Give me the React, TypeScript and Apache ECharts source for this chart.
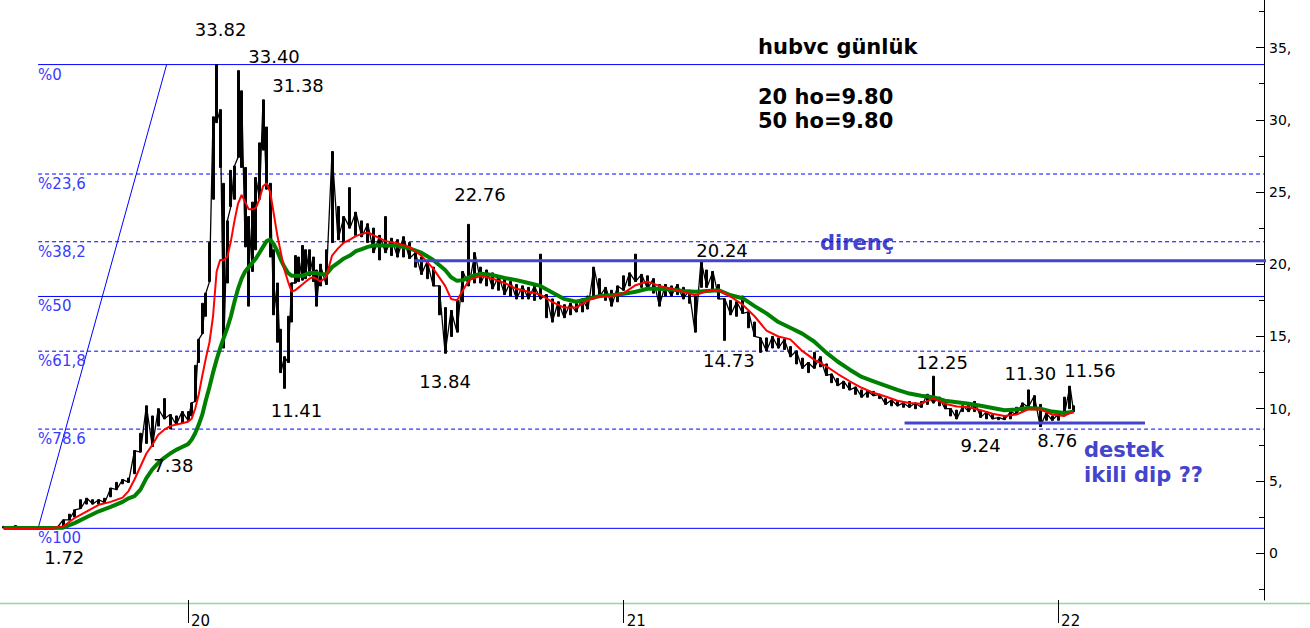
import { useEffect, useRef } from "react";
import * as echarts from "echarts";

const FONT = '"DejaVu Sans", Verdana, sans-serif';

// ---- price samples (date, high, low) ----
const preDates = [
  "2019-07-30", "2019-08-04", "2019-08-09", "2019-08-14", "2019-08-19", "2019-08-24", "2019-08-29", "2019-09-03", "2019-09-08", "2019-09-13",
  "2019-09-18", "2019-09-23", "2019-09-28", "2019-10-03", "2019-10-08", "2019-10-13", "2019-10-18", "2019-10-23", "2019-10-28", "2019-11-02",
  "2019-11-07", "2019-11-12", "2019-11-17", "2019-11-22", "2019-11-27", "2019-12-02", "2019-12-07", "2019-12-12", "2019-12-17", "2019-12-22",
  "2019-12-27",
];
const preHighs = [
  1.85, 1.8, 1.9, 1.85, 1.8, 1.78, 1.76, 1.78, 1.8, 1.85,
  2.3, 2.7, 3.0, 3.7, 3.8, 3.7, 3.7, 3.8, 4.5, 4.9,
  5.1, 5.2, 7.1, 8.3, 10.2, 9.5, 10.0, 10.7, 9.6, 9.5,
  9.8,
];
const preLows = [
  1.74, 1.74, 1.75, 1.74, 1.73, 1.74, 1.72, 1.74, 1.75, 1.76,
  1.85, 2.3, 2.5, 3.1, 3.4, 3.4, 3.4, 3.5, 3.9, 4.4,
  4.8, 4.9, 5.5, 7.0, 7.6, 7.38, 8.8, 9.3, 8.6, 8.9,
  9.0,
];

const fineDates = [
  "2020-01-01", "2020-01-04", "2020-01-07", "2020-01-10", "2020-01-13", "2020-01-16", "2020-01-19", "2020-01-22", "2020-01-25", "2020-01-28",
  "2020-01-31", "2020-02-03", "2020-02-06", "2020-02-09", "2020-02-12", "2020-02-15", "2020-02-18", "2020-02-21", "2020-02-24", "2020-02-27",
  "2020-03-01", "2020-03-04", "2020-03-07", "2020-03-10", "2020-03-13", "2020-03-16", "2020-03-19", "2020-03-22", "2020-03-25", "2020-03-28",
  "2020-03-31", "2020-04-03", "2020-04-06", "2020-04-09", "2020-04-12", "2020-04-15", "2020-04-18", "2020-04-21",
];
const fineHighs = [
  9.8, 10.4, 13.0, 14.8, 17.3, 18.0, 21.5, 30.2, 33.82, 30.7,
  25.6, 23.0, 26.5, 26.8, 33.4, 32.0, 26.7, 23.3, 24.3, 26.0,
  28.4, 31.38, 29.5, 25.6, 21.0, 18.7, 15.5, 13.6, 16.4, 18.7,
  20.6, 20.5, 21.3, 21.0, 21.0, 20.5, 19.6, 20.0,
];
const fineLows = [
  9.2, 9.5, 10.5, 13.2, 15.2, 16.4, 18.8, 24.5, 29.8, 26.7,
  14.2, 18.7, 24.0, 24.5, 27.4, 26.7, 21.2, 17.1, 19.5, 21.0,
  24.5, 27.9, 25.2, 20.5, 16.5, 14.6, 12.5, 11.41, 13.2, 16.0,
  18.7, 18.8, 18.9, 19.0, 19.2, 18.8, 17.1, 18.5,
];

const postDates = [
  "2020-04-26", "2020-05-01", "2020-05-06", "2020-05-11", "2020-05-16", "2020-05-21", "2020-05-26", "2020-05-31", "2020-06-05", "2020-06-10",
  "2020-06-15", "2020-06-20", "2020-06-25", "2020-06-30", "2020-07-05", "2020-07-10", "2020-07-15", "2020-07-20", "2020-07-25", "2020-07-30",
  "2020-08-04", "2020-08-09", "2020-08-14", "2020-08-19", "2020-08-24", "2020-08-29", "2020-09-03", "2020-09-08", "2020-09-13", "2020-09-18",
  "2020-09-23", "2020-09-28", "2020-10-03", "2020-10-08", "2020-10-13", "2020-10-18", "2020-10-23", "2020-10-28", "2020-11-02", "2020-11-07",
  "2020-11-12", "2020-11-17", "2020-11-22", "2020-11-27", "2020-12-02", "2020-12-07", "2020-12-12", "2020-12-17", "2020-12-22", "2020-12-27",
  "2021-01-01", "2021-01-06", "2021-01-11", "2021-01-16", "2021-01-21", "2021-01-26", "2021-01-31", "2021-02-05", "2021-02-10", "2021-02-15",
  "2021-02-20", "2021-02-25", "2021-03-02", "2021-03-07", "2021-03-12", "2021-03-17", "2021-03-22", "2021-03-27", "2021-04-01", "2021-04-06",
  "2021-04-11", "2021-04-16", "2021-04-21", "2021-04-26", "2021-05-01", "2021-05-06", "2021-05-11", "2021-05-16", "2021-05-21", "2021-05-26",
  "2021-05-31", "2021-06-05", "2021-06-10", "2021-06-15", "2021-06-20", "2021-06-25", "2021-06-30", "2021-07-05", "2021-07-10", "2021-07-15",
  "2021-07-20", "2021-07-25", "2021-07-30", "2021-08-04", "2021-08-09", "2021-08-14", "2021-08-19", "2021-08-24", "2021-08-29", "2021-09-03",
  "2021-09-08", "2021-09-13", "2021-09-18", "2021-09-23", "2021-09-28", "2021-10-03", "2021-10-08", "2021-10-13", "2021-10-18", "2021-10-23",
  "2021-10-28", "2021-11-02", "2021-11-07", "2021-11-12", "2021-11-17", "2021-11-22", "2021-11-27", "2021-12-02", "2021-12-07", "2021-12-12",
  "2021-12-17", "2021-12-22", "2021-12-27", "2022-01-01", "2022-01-06", "2022-01-11", "2022-01-14",
];
const postHighs = [
  21.0, 27.8, 24.0, 23.3, 25.3, 23.6, 23.0, 22.8, 22.5, 22.0,
  23.3, 21.8, 21.7, 21.9, 21.5, 20.8, 20.5, 20.2, 19.8, 18.5,
  17.0, 16.8, 17.5, 19.5, 22.76, 20.8, 19.8, 19.6, 19.4, 19.2,
  19.0, 18.8, 18.6, 18.5, 18.4, 18.5, 20.7, 17.9, 17.6, 17.4,
  17.2, 17.3, 17.5, 17.6, 17.8, 19.8, 19.0, 18.4, 18.2, 18.5,
  19.2, 19.4, 20.7, 19.3, 19.2, 19.0, 18.6, 18.6, 18.5, 18.6,
  18.4, 18.2, 17.8, 20.24, 19.6, 19.5, 18.6, 17.6, 17.5, 17.4,
  17.8, 16.7, 16.0, 14.9, 14.9, 15.0, 14.9, 14.8, 14.3, 14.0,
  13.5, 13.2, 13.9, 13.6, 13.1, 12.4, 12.1, 11.9, 11.8, 11.5,
  11.3, 11.2, 11.2, 11.0, 10.7, 10.6, 10.5, 10.4, 10.5, 10.4,
  10.5, 11.0, 12.25, 10.8, 10.5, 10.0, 9.9, 10.2, 10.3, 10.5,
  9.9, 9.8, 9.6, 9.4, 9.5, 9.8, 10.1, 10.4, 11.3, 10.9,
  10.3, 9.7, 9.5, 9.6, 10.8, 11.56, 10.2,
];
const postLows = [
  18.6, 21.5, 21.7, 21.5, 22.5, 22.0, 21.9, 21.5, 20.8, 20.3,
  20.8, 20.6, 20.5, 20.5, 20.4, 19.8, 19.3, 19.0, 18.5, 16.5,
  13.84, 15.0, 15.3, 17.4, 18.5, 18.7, 18.7, 18.5, 18.3, 18.2,
  17.9, 17.8, 17.6, 17.6, 17.6, 17.5, 17.6, 16.3, 16.0, 16.4,
  16.3, 16.5, 16.7, 16.7, 16.9, 17.6, 17.8, 17.5, 17.1, 17.4,
  18.2, 18.5, 18.8, 18.4, 18.3, 18.0, 17.1, 17.8, 17.8, 17.9,
  17.6, 17.3, 15.3, 18.4, 18.4, 18.2, 17.6, 14.73, 16.5, 16.4,
  16.6, 15.6, 15.0, 13.9, 14.0, 14.2, 14.2, 14.1, 13.6, 13.1,
  12.8, 12.5, 12.8, 12.9, 12.3, 11.8, 11.6, 11.4, 11.3, 11.0,
  10.8, 10.8, 10.9, 10.7, 10.3, 10.2, 10.2, 10.1, 10.1, 10.0,
  10.1, 10.3, 10.4, 10.2, 10.0, 9.5, 9.3, 9.8, 9.8, 9.8,
  9.4, 9.3, 9.3, 9.24, 9.25, 9.3, 9.6, 9.8, 10.1, 10.0,
  8.76, 9.2, 9.2, 9.2, 9.5, 10.0, 9.8,
];

// ---- moving averages (20-day red, 50-day green) ----
const maPreDates = [
  "2019-07-30", "2019-08-19", "2019-09-08", "2019-09-18", "2019-09-28", "2019-10-08", "2019-10-18", "2019-10-28", "2019-11-07", "2019-11-12",
  "2019-11-17", "2019-11-22", "2019-11-27", "2019-12-02", "2019-12-07", "2019-12-12", "2019-12-17", "2019-12-22", "2019-12-27",
];
const ma20Pre = [1.75, 1.75, 1.75, 1.85, 2.45, 2.9, 3.35, 3.55, 3.85, 4.3, 5.1, 6.0, 6.9, 7.5, 8.2, 8.55, 8.8, 8.9, 9.0];
const ma50Pre = [1.74, 1.74, 1.74, 1.76, 2.1, 2.5, 2.9, 3.2, 3.55, 3.8, 3.95, 4.4, 5.2, 5.8, 6.25, 6.6, 6.9, 7.15, 7.35];

const ma20Fine = [
  9.1, 9.3, 10.0, 11.0, 12.3, 13.5, 14.6, 16.4, 19.5, 20.3,
  20.3, 20.5, 21.6, 23.0, 24.2, 24.8, 24.3, 23.8, 23.8, 23.9,
  24.5, 25.4, 25.6, 25.0, 23.5, 22.0, 20.8, 19.6, 18.8, 18.1,
  18.2, 18.4, 18.6, 18.8, 19.0, 19.1, 19.0, 18.8,
];
const ma50Fine = [
  7.55, 7.85, 8.3, 8.9, 9.6, 10.6, 11.5, 12.5, 13.4, 14.2,
  14.9, 15.6, 16.4, 17.4, 18.3, 19.0, 19.5, 19.8, 20.1, 20.4,
  20.8, 21.2, 21.6, 21.7, 21.4, 20.9, 20.3, 19.8, 19.4, 19.2,
  19.2, 19.2, 19.2, 19.3, 19.4, 19.4, 19.4, 19.3,
];

const maPostDates = [
  "2020-04-26", "2020-05-01", "2020-05-06", "2020-05-11", "2020-05-16", "2020-05-21", "2020-05-26", "2020-05-31", "2020-06-05",
  "2020-06-15", "2020-06-25", "2020-07-05", "2020-07-15", "2020-07-25", "2020-08-04",
  "2020-08-09", "2020-08-14", "2020-08-19", "2020-08-24",
  "2020-09-03", "2020-09-13", "2020-09-23", "2020-10-03", "2020-10-13", "2020-10-23", "2020-11-02", "2020-11-12", "2020-11-22", "2020-12-02",
  "2020-12-12", "2020-12-22", "2021-01-01", "2021-01-11", "2021-01-21", "2021-01-31", "2021-02-10", "2021-02-20", "2021-03-02", "2021-03-12",
  "2021-03-22", "2021-04-01", "2021-04-11", "2021-04-21", "2021-05-01", "2021-05-11", "2021-05-21", "2021-05-31", "2021-06-10", "2021-06-20",
  "2021-06-30", "2021-07-10", "2021-07-20", "2021-07-30", "2021-08-09", "2021-08-19", "2021-08-29", "2021-09-08", "2021-09-18", "2021-09-28",
  "2021-10-08", "2021-10-18", "2021-10-28", "2021-11-07", "2021-11-17", "2021-11-27", "2021-12-07", "2021-12-17", "2021-12-27", "2022-01-06",
  "2022-01-14",
];
const ma20Post = [
  19.1, 20.6, 21.1, 21.5, 21.7, 21.95, 22.1, 22.2, 22.0,
  21.6, 21.45, 21.2, 20.6, 19.7, 18.5,
  17.6, 17.5, 18.2, 18.9,
  19.2, 19.0, 18.7, 18.3, 18.1, 17.9, 17.4, 17.0, 17.0, 17.5,
  17.8, 17.8, 18.0, 18.55, 18.8, 18.5, 18.3, 18.1, 17.85, 18.15,
  18.2, 17.75, 17.2, 16.4, 15.4, 15.0, 14.8, 14.0, 13.4, 12.95,
  12.4, 11.9, 11.45, 11.1, 10.85, 10.55, 10.4, 10.35, 10.7, 10.35,
  10.15, 10.1, 9.9, 9.65, 9.5, 9.6, 9.95, 9.95, 9.6, 9.5,
  9.8,
];
const ma50Post = [
  19.3, 19.8, 20.1, 20.4, 20.6, 20.9, 21.05, 21.2, 21.3,
  21.3, 21.3, 21.1, 20.8, 20.3, 19.6,
  19.1, 18.85, 18.9, 19.1,
  19.35, 19.25, 19.05, 18.9, 18.7, 18.5, 18.05, 17.6, 17.4, 17.6,
  17.8, 17.85, 17.95, 18.1, 18.3, 18.3, 18.25, 18.15, 18.1, 18.15,
  18.2, 17.85, 17.65, 17.1, 16.6, 16.0, 15.6, 15.2, 14.65, 13.9,
  13.25, 12.7, 12.2, 11.9, 11.6, 11.3, 11.05, 10.9, 10.8, 10.55,
  10.45, 10.35, 10.2, 10.05, 9.9, 9.95, 10.05, 10.0, 9.8, 9.7,
  9.8,
];

// ---- Fibonacci retracement ----
const fibHigh = 33.82;
const fibLow = 1.72;
const fibRatios = [0, 0.236, 0.382, 0.5, 0.618, 0.786, 1];
const fibLabels = ["%0", "%23,6", "%38,2", "%50", "%61,8", "%78.6", "%100"];
const fibSolid = [true, false, false, true, false, false, true];
const fibStartDate = "2019-08-28";
const fibDiagTopDate = "2019-12-14";

// ---- support / resistance ----
const resistanceLevel = 20.24;
const resistanceDates = ["2020-07-09", "2022-08-25"];
const supportLevel = 9.02;
const supportDates = ["2021-08-25", "2022-03-15"];

// ---- annotated extremes ----
const annotationDates = [
  "2020-01-25", "2020-02-12", "2020-03-04", "2020-08-24", "2021-03-07", "2021-03-27", "2020-08-04", "2020-03-22",
  "2019-12-02", "2019-08-29", "2021-09-18", "2021-12-07", "2022-01-11", "2021-11-12", "2021-12-17",
];
const annotationValues = [33.82, 33.4, 31.38, 22.76, 20.24, 14.73, 13.84, 11.41, 7.38, 1.72, 12.25, 11.3, 11.56, 9.24, 8.76];
const annotationOffsets = [
  [4, -35], [36, -14], [35, -14], [11, -30], [21, -10], [4, 20], [0, 28], [12, 22],
  [21, 19], [25, 29], [9, -14], [2, -16], [20, -16], [-18, 26], [17, 14],
];

// ---- axes ----
const xMin = "2019-07-27";
const xMax = "2022-06-23";
const yearStarts = ["2020-01-01", "2021-01-01", "2022-01-01"];
const yMin = -3.24;
const yMax = 38.29;
const yTicks = [0, 5, 10, 15, 20, 25, 30, 35];
const yMinorTicks = [-2.5, 2.5, 7.5, 12.5, 17.5, 22.5, 27.5, 32.5, 37.5];

const toTs = (s: string) => {
  const [y, m, d] = s.split("-").map(Number);
  return new Date(y, m - 1, d).getTime();
};

export default function App() {
  const ref = useRef<HTMLDivElement>(null);

  useEffect(() => {
    document.body.style.margin = "0";
    if (!ref.current) return;
    const chart = echarts.init(ref.current, null, { renderer: "svg" });

    const priceDates = [...preDates, ...fineDates, ...postDates];
    const highs = [...preHighs, ...fineHighs, ...postHighs];
    const lows = [...preLows, ...fineLows, ...postLows];
    const maDates = [...maPreDates, ...fineDates, ...maPostDates];
    const ma20 = [...ma20Pre, ...ma20Fine, ...ma20Post];
    const ma50 = [...ma50Pre, ...ma50Fine, ...ma50Post];

    const candles = priceDates.map((d, i) => [toTs(d), lows[i], highs[i], lows[i], highs[i]]);
    const zigzag = priceDates.map((d, i) => [toTs(d), i % 2 === 0 ? highs[i] : lows[i]]);

    const fibBlue = "#0000ff";
    const fibRange = fibHigh - fibLow;
    const fibLevels = fibRatios.map((r) => fibHigh - r * fibRange);

    const fibSeries = fibLevels.map((level, i) => ({
      name: fibLabels[i],
      type: "line",
      data: [
        [toTs(fibStartDate), level],
        [toTs(xMax), level],
      ],
      symbol: "none",
      silent: true,
      z: 1,
      lineStyle: { color: fibBlue, width: 1, type: fibSolid[i] ? "solid" : [4, 3] },
      markPoint: {
        symbol: "circle",
        symbolSize: 1,
        silent: true,
        itemStyle: { color: "rgba(0,0,0,0)" },
        label: {
          show: true,
          position: "inside",
          align: "left",
          verticalAlign: "middle",
          offset: [0, 10],
          color: "#3a3aff",
          fontSize: 15,
          lineHeight: 15,
          fontFamily: FONT,
          formatter: fibLabels[i],
        },
        data: [{ coord: [toTs(fibStartDate), level] }],
      },
    }));

    const blue = "#4444cc";
    const yearTs = yearStarts.map(toTs);

    const option: any = {
      animation: false,
      backgroundColor: "#ffffff",
      textStyle: { fontFamily: FONT },
      grid: { left: 0, right: 46, top: 0, bottom: 25, containLabel: false },
      xAxis: {
        type: "value",
        min: toTs(xMin),
        max: toTs(xMax),
        axisLine: { show: false, onZero: false },
        axisTick: {
          show: true,
          customValues: yearTs,
          length: 23,
          lineStyle: { color: "#000", width: 1 },
        },
        axisLabel: {
          customValues: yearTs,
          formatter: (v: number) => String(new Date(v).getFullYear() % 100),
          align: "left",
          margin: 13,
          padding: [0, 0, 0, 3],
          color: "#000",
          fontSize: 15,
          fontFamily: FONT,
        },
        splitLine: { show: false },
      },
      yAxis: [
        {
          type: "value",
          position: "right",
          min: yMin,
          max: yMax,
          axisLine: { show: true, onZero: false, lineStyle: { color: "#000", width: 1 } },
          axisTick: { show: true, inside: true, length: 8, customValues: yTicks, lineStyle: { color: "#000" } },
          axisLabel: {
            customValues: yTicks,
            formatter: (v: number) => (v === 0 ? "0" : `${v},`),
            color: "#000",
            fontSize: 14,
            fontFamily: FONT,
            margin: 5,
            verticalAlign: "middle",
            padding: [4, 0, 0, 0],
          },
          splitLine: { show: false },
        },
        {
          type: "value",
          position: "right",
          min: yMin,
          max: yMax,
          axisLine: { show: false, onZero: false },
          axisTick: { show: true, inside: true, length: 5, customValues: yMinorTicks, lineStyle: { color: "#000" } },
          axisLabel: { show: false },
          splitLine: { show: false },
        },
      ],
      series: [
        ...fibSeries,
        {
          name: "fib-diagonal",
          type: "line",
          data: [
            [toTs(fibStartDate), fibLow],
            [toTs(fibDiagTopDate), fibHigh],
          ],
          symbol: "none",
          silent: true,
          z: 1,
          lineStyle: { color: fibBlue, width: 1 },
        },
        {
          name: "hubvc",
          type: "candlestick",
          data: candles,
          encode: { x: 0, y: [1, 2, 3, 4] },
          barWidth: 2.5,
          silent: true,
          z: 2,
          itemStyle: { color: "#000", color0: "#000", borderColor: "#000", borderColor0: "#000", borderWidth: 1 },
        },
        {
          name: "trace",
          type: "line",
          data: zigzag,
          symbol: "none",
          silent: true,
          z: 2,
          lineStyle: { color: "#000", width: 1.3 },
        },
        {
          name: "50 ho",
          type: "line",
          data: maDates.map((d, i) => [toTs(d), ma50[i]]),
          symbol: "none",
          silent: true,
          z: 3,
          lineStyle: { color: "#008000", width: 4 },
        },
        {
          name: "20 ho",
          type: "line",
          data: maDates.map((d, i) => [toTs(d), ma20[i]]),
          symbol: "none",
          silent: true,
          z: 3,
          lineStyle: { color: "#ff0000", width: 2 },
          markPoint: {
            symbol: "circle",
            symbolSize: 1,
            silent: true,
            itemStyle: { color: "rgba(0,0,0,0)" },
            label: {
              show: true,
              position: "inside",
              color: "#000",
              fontSize: 18,
              lineHeight: 18,
              fontFamily: FONT,
              formatter: (p: any) => Number(p.value).toFixed(2),
            },
            data: annotationDates.map((d, i) => ({
              coord: [toTs(d), annotationValues[i]],
              value: annotationValues[i],
              label: { offset: annotationOffsets[i] },
            })),
          },
        },
        {
          name: "direnç",
          type: "line",
          data: resistanceDates.map((d) => [toTs(d), resistanceLevel]),
          symbol: "none",
          clip: false,
          silent: true,
          z: 4,
          lineStyle: { color: blue, width: 3 },
        },
        {
          name: "destek",
          type: "line",
          data: supportDates.map((d) => [toTs(d), supportLevel]),
          symbol: "none",
          clip: false,
          silent: true,
          z: 4,
          lineStyle: { color: blue, width: 3 },
        },
      ],
      graphic: [
        {
          type: "line",
          silent: true,
          shape: { x1: 0, y1: 603.5, x2: 1310, y2: 603.5 },
          style: { stroke: "#96d696", lineWidth: 1.5 },
        },
        {
          type: "text",
          x: 758,
          y: 47,
          style: { text: "hubvc günlük", fill: "#000", font: `bold 21px ${FONT}`, verticalAlign: "middle", textVerticalAlign: "middle" },
        },
        {
          type: "text",
          x: 758,
          y: 97,
          style: { text: `20 ho=${ma20[ma20.length - 1].toFixed(2)}`, fill: "#000", font: `bold 21px ${FONT}`, verticalAlign: "middle", textVerticalAlign: "middle" },
        },
        {
          type: "text",
          x: 758,
          y: 121,
          style: { text: `50 ho=${ma50[ma50.length - 1].toFixed(2)}`, fill: "#000", font: `bold 21px ${FONT}`, verticalAlign: "middle", textVerticalAlign: "middle" },
        },
        {
          type: "text",
          x: 820,
          y: 243,
          style: { text: "direnç", fill: blue, font: `bold 21px ${FONT}`, verticalAlign: "middle", textVerticalAlign: "middle" },
        },
        {
          type: "text",
          x: 1084,
          y: 450,
          style: { text: "destek", fill: blue, font: `bold 21px ${FONT}`, verticalAlign: "middle", textVerticalAlign: "middle" },
        },
        {
          type: "text",
          x: 1084,
          y: 475,
          style: { text: "ikili dip ??", fill: blue, font: `bold 21px ${FONT}`, verticalAlign: "middle", textVerticalAlign: "middle" },
        },
      ],
    };

    chart.setOption(option);
    return () => chart.dispose();
  }, []);

  return <div ref={ref} style={{ width: 1310, height: 628 }} />;
}
